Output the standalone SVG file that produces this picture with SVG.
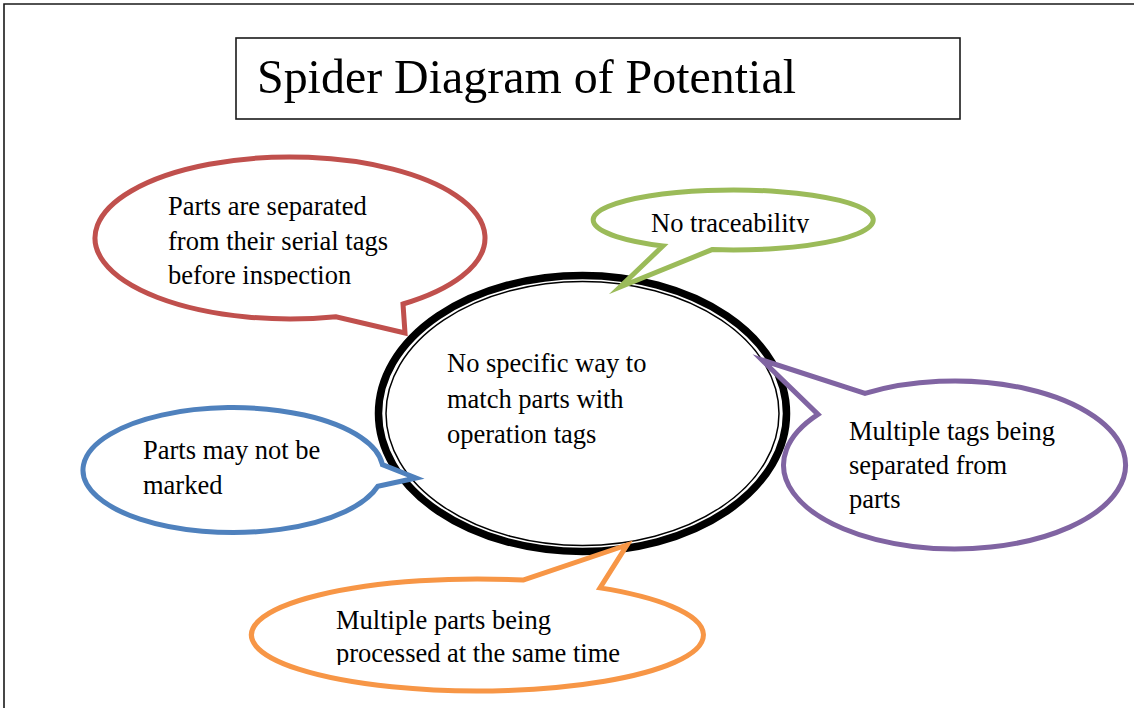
<svg xmlns="http://www.w3.org/2000/svg" width="1134" height="708" viewBox="0 0 1134 708">
  <style>
    .frame { fill: none; stroke: #1a1a1a; stroke-width: 1.6; }
    .title-box { fill: #ffffff; stroke: #1a1a1a; stroke-width: 1.6; }
    .title { font-family: "Liberation Serif", "Times New Roman", serif; font-size: 49px; fill: #000000; }
    .label { font-family: "Liberation Serif", "Times New Roman", serif; font-size: 26.5px; fill: #000000; }
    .callout { fill: #ffffff; stroke-width: 5; stroke-linejoin: miter; stroke-miterlimit: 10; }
    .red { stroke: #C0504D; }
    .green { stroke: #9BBB59; }
    .purple { stroke: #8064A2; }
    .blue { stroke: #4F81BD; }
    .orange { stroke: #F79646; }
  </style>
  <defs>
    <!-- text frames inside the callouts cut off the last line -->
    <clipPath id="clip-red"><rect x="150" y="180" width="320" height="105"/></clipPath>
    <clipPath id="clip-green"><rect x="600" y="195" width="270" height="38"/></clipPath>
    <clipPath id="clip-orange"><rect x="300" y="595" width="400" height="70"/></clipPath>
  </defs>

  <rect width="1134" height="708" fill="#ffffff"/>

  <!-- page frame -->
  <path class="frame" d="M 4 708 V 4 H 1134"/>

  <!-- title -->
  <g id="title">
    <rect class="title-box" x="236" y="38" width="724" height="81"/>
    <text class="title" x="257" y="93" textLength="539" lengthAdjust="spacingAndGlyphs">Spider Diagram of Potential</text>
  </g>

  <!-- central problem: double outline ellipse -->
  <g id="center">
    <ellipse cx="582.5" cy="413.5" rx="204" ry="138" fill="#ffffff" stroke="#000000" stroke-width="7.5"/>
    <ellipse cx="582.5" cy="413.5" rx="196.5" ry="132" fill="none" stroke="#000000" stroke-width="1.5"/>
    <text class="label" x="447" y="372">No specific way to</text>
    <text class="label" x="447" y="407.5">match parts with</text>
    <text class="label" x="447" y="443">operation tags</text>
  </g>

  <!-- callouts around the centre -->
  <g id="callout-serial-tags">
    <path class="callout red" d="M 403 304 L 405 333 L 336 316.7 A 195 81 0 1 1 403 304 Z"/>
    <g clip-path="url(#clip-red)">
      <text class="label" x="168" y="215">Parts are separated</text>
      <text class="label" x="168" y="249.5">from their serial tags</text>
      <text class="label" x="168" y="283.5">before inspection</text>
    </g>
  </g>

  <g id="callout-traceability">
    <path class="callout green" d="M 712 249.6 L 620 287 L 663 245.9 A 140 30 0 1 1 712 249.6 Z"/>
    <g clip-path="url(#clip-green)">
      <text class="label" x="651" y="231.5">No traceability</text>
    </g>
  </g>

  <g id="callout-multiple-tags">
    <path class="callout purple" d="M 818 414.4 L 762 360 L 865 393.4 A 171 84 0 1 1 818 414.4 Z"/>
    <text class="label" x="849" y="439.5">Multiple tags being</text>
    <text class="label" x="849" y="473.5">separated from</text>
    <text class="label" x="849" y="507.5">parts</text>
  </g>

  <g id="callout-not-marked">
    <path class="callout blue" d="M 382.4 464.6 L 416 478 L 377.9 486.2 A 150 62.5 0 1 1 382.4 464.6 Z"/>
    <text class="label" x="143" y="458.5">Parts may not be</text>
    <text class="label" x="143" y="493.5">marked</text>
  </g>

  <g id="callout-multiple-parts">
    <path class="callout orange" d="M 523 580.1 L 627 545 L 600 587.9 A 226 56 0 1 1 523 580.1 Z"/>
    <g clip-path="url(#clip-orange)">
      <text class="label" x="336" y="628.5">Multiple parts being</text>
      <text class="label" x="336" y="662">processed at the same time</text>
    </g>
  </g>
</svg>
